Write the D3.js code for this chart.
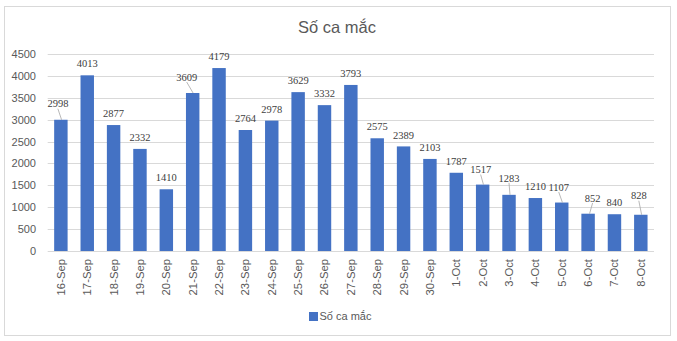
<!DOCTYPE html>
<html>
<head>
<meta charset="utf-8">
<script src="https://cdn.jsdelivr.net/npm/d3@7"></script>
<style>
  html, body { margin: 0; padding: 0; background: #fff; }
  svg { display: block; }
</style>
</head>
<body>
<svg id="chart" width="677" height="341"></svg>
<script>
// Daily new cases, 16 Sep – 8 Oct
const categories = ["16-Sep","17-Sep","18-Sep","19-Sep","20-Sep","21-Sep","22-Sep","23-Sep",
  "24-Sep","25-Sep","26-Sep","27-Sep","28-Sep","29-Sep","30-Sep","1-Oct","2-Oct","3-Oct",
  "4-Oct","5-Oct","6-Oct","7-Oct","8-Oct"];
const cases = [2998,4013,2877,2332,1410,3609,4179,2764,2978,3629,3332,3793,2575,2389,2103,
  1787,1517,1283,1210,1107,852,840,828];
const yTicks = [0,500,1000,1500,2000,2500,3000,3500,4000,4500];
const seriesName = "Số ca mắc";
const chartTitle = "Số ca mắc";

// Label nudges [dx, dy] for labels moved off their default spot (drawn with a leader line)
const labelNudge = {0: [-3, -16], 5: [-6, -16], 16: [-2, -15], 17: [0, -17],
  19: [-3, -15.5], 20: [4.5, -15.7], 22: [-2, -19]};

const svg = d3.select("#chart");
const W = 677, H = 341;
const plot = {left: 47.7, right: 654, top: 54, bottom: 251};

// Outer chart frame
svg.append("rect").attr("x", 4.5).attr("y", 6.5).attr("width", 666).attr("height", 329)
  .attr("fill", "#fff").attr("stroke", "#d9d9d9").attr("stroke-width", 1);

const x = d3.scaleBand().domain(categories).range([plot.left, plot.right])
  .paddingInner(0.49).paddingOuter(0.245);
const y = d3.scaleLinear().domain([0, 4500]).range([plot.bottom, plot.top]);

// Gridlines
svg.append("g").selectAll("line").data(yTicks).join("line")
  .attr("x1", plot.left).attr("x2", plot.right)
  .attr("y1", d => Math.round(y(d)) + 0.5).attr("y2", d => Math.round(y(d)) + 0.5)
  .attr("stroke", "#d9d9d9").attr("stroke-width", 1);

// Y axis labels
const yAxis = d3.axisLeft(y).tickValues(yTicks).tickSize(0).tickPadding(0).tickFormat(d3.format("d"));
const yg = svg.append("g").attr("transform", `translate(${36},0)`).call(yAxis);
yg.select(".domain").remove();
yg.selectAll("text").attr("font-family", "Liberation Sans, Arial, sans-serif")
  .attr("font-size", 11).attr("fill", "#595959");

// Bars
svg.append("g").selectAll("rect").data(cases).join("rect")
  .attr("x", (d, i) => x(categories[i]))
  .attr("y", d => y(d))
  .attr("width", x.bandwidth())
  .attr("height", d => y(0) - y(d))
  .attr("fill", "#4472c4");

// X axis labels (rotated)
const xAxis = d3.axisBottom(x).tickSize(0).tickPadding(0);
const xg = svg.append("g").attr("transform", `translate(0,${plot.bottom})`).call(xAxis);
xg.select(".domain").remove();
xg.selectAll("text")
  .attr("font-family", "Liberation Sans, Arial, sans-serif")
  .attr("font-size", 11.3).attr("fill", "#595959")
  .attr("text-anchor", "end").attr("dy", null)
  .attr("transform", "translate(4,8) rotate(-90)");

// Data labels and leader lines
const lbl = svg.append("g");
cases.forEach((v, i) => {
  const cx = x(categories[i]) + x.bandwidth() / 2;
  const top = y(v);
  const [dx, dy] = labelNudge[i] || [0, -11.5];
  const lx = cx + dx, ly = top + dy;
  if (labelNudge[i]) {
    lbl.append("line")
      .attr("x1", lx).attr("y1", ly + 5)
      .attr("x2", cx + dx * 0.1 + 1).attr("y2", top)
      .attr("stroke", "#a6a6a6").attr("stroke-width", 0.8);
  }
  lbl.append("text").attr("x", lx).attr("y", ly).attr("dy", "0.35em")
    .attr("text-anchor", "middle")
    .attr("font-family", "Liberation Serif, Times New Roman, serif")
    .attr("font-size", 10.5).attr("fill", "#404040")
    .text(d3.format("d")(v));
});

// Title
svg.append("text").attr("x", 337).attr("y", 33).attr("text-anchor", "middle")
  .attr("font-family", "Liberation Sans, Arial, sans-serif")
  .attr("font-size", 16.5).attr("fill", "#595959").text(chartTitle);

// Legend
const lg = svg.append("g");
lg.append("rect").attr("x", 309).attr("y", 312).attr("width", 9).attr("height", 9).attr("fill", "#4472c4");
lg.append("text").attr("x", 319.5).attr("y", 316.5).attr("dy", "0.35em")
  .attr("font-family", "Liberation Sans, Arial, sans-serif")
  .attr("font-size", 11).attr("fill", "#595959").text(seriesName);
</script>
</body>
</html>
